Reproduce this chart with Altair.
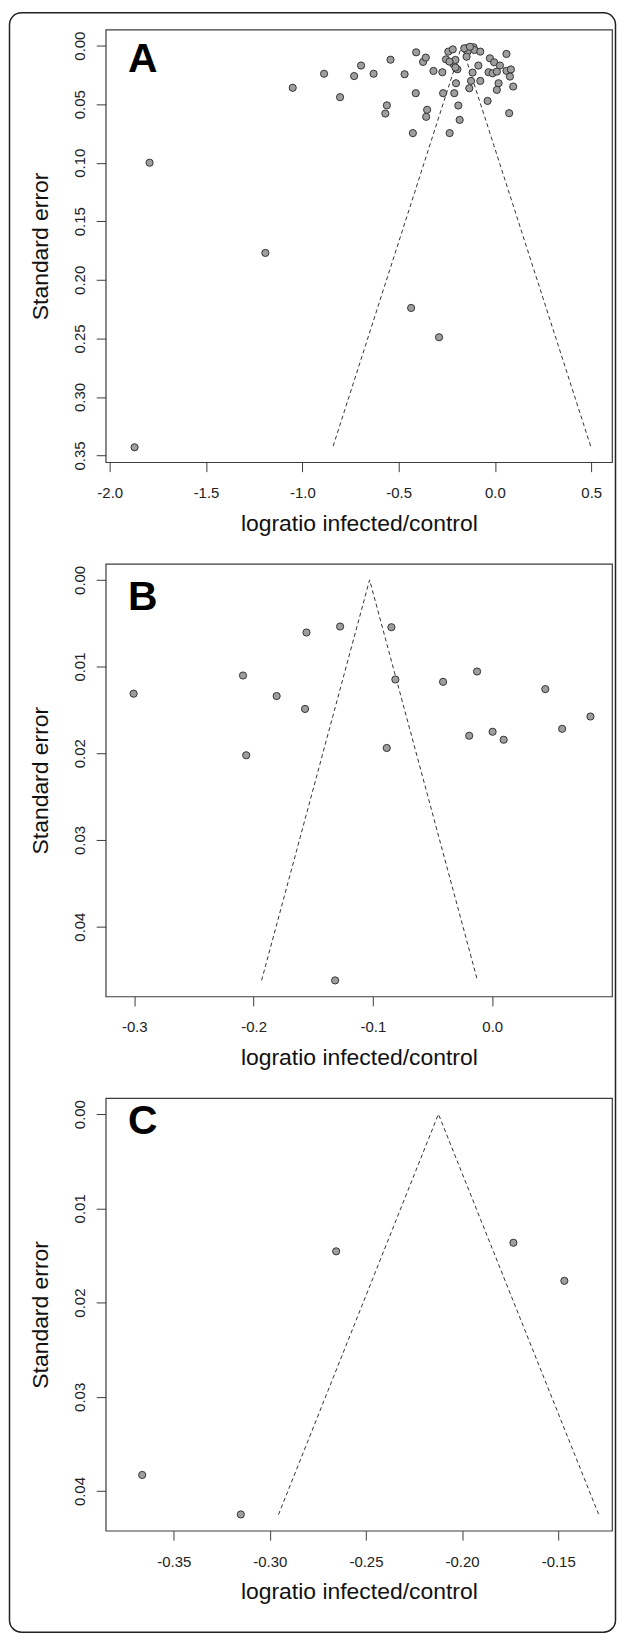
import altair as alt
import pandas as pd

# ---------------- Panel A data ----------------
a_x = [-1.871, -1.793, -1.192, -1.050, -0.887, -0.804, -0.731, -0.695, -0.630, -0.542,
       -0.561, -0.569, -0.435, -0.290,
       -0.409, -0.373, -0.359, -0.469, -0.411, -0.352, -0.357, -0.426, -0.319, -0.273,
       -0.254, -0.242, -0.219, -0.216, -0.205, -0.195, -0.269, -0.211, -0.202, -0.190,
       -0.183, -0.235, -0.150, -0.142, -0.111, -0.147, -0.107, -0.076, -0.086, -0.116,
       -0.124, -0.076, -0.133, -0.038, -0.026, -0.004, 0.026, 0.060, -0.033, -0.012,
       0.010, 0.060, 0.083, 0.078, 0.095, 0.019, 0.010, 0.074,
       -0.236, -0.159, -0.130, -0.205]
a_se = [0.343, 0.100, 0.177, 0.036, 0.024, 0.044, 0.026, 0.017, 0.024, 0.012,
        0.051, 0.058, 0.224, 0.249,
        0.0057, 0.0139, 0.0102, 0.0244, 0.0406, 0.0548, 0.0608, 0.0747, 0.0216, 0.0227,
        0.0117, 0.0051, 0.0032, 0.0157, 0.0122, 0.0202, 0.0406, 0.0406, 0.0321, 0.0511,
        0.0634, 0.0747, 0.0023, 0.0051, 0.0014, 0.0094, 0.0037, 0.0051, 0.0170, 0.0230,
        0.0301, 0.0301, 0.0364, 0.0472, 0.0108, 0.0142, 0.0170, 0.0071, 0.0227, 0.0236,
        0.0222, 0.0215, 0.0203, 0.0264, 0.0349, 0.0321, 0.0378, 0.0577,
        0.0136, 0.0023, 0.0010, 0.0187]
a_funnel_x = [-0.840, -0.172, 0.497]
a_funnel_se = [0.342, 0.0, 0.342]
a_xticks = [-2.0, -1.5, -1.0, -0.5, 0.0, 0.5]
a_yticks = [0.00, 0.05, 0.10, 0.15, 0.20, 0.25, 0.30, 0.35]
a_xdom = [-2.021, 0.608]
a_ydom = [-0.0137, 0.3557]

# ---------------- Panel B data ----------------
b_x = [-0.3006, -0.2089, -0.2062, -0.1807, -0.1569, -0.1557, -0.1275, -0.0845, -0.0812,
       -0.0884, -0.0412, -0.0127, -0.0193, 0.0003, 0.0096, 0.0445, 0.0586, 0.0823, -0.1317]
b_se = [0.01313, 0.01103, 0.02023, 0.0134, 0.01489, 0.00607, 0.00538, 0.00546, 0.01149,
        0.01939, 0.01176, 0.01057, 0.01798, 0.01752, 0.01844, 0.0126, 0.01718, 0.01576, 0.0462]
b_funnel_x = [-0.1933, -0.1028, -0.0124]
b_funnel_se = [0.0462, 0.0, 0.0462]
b_xticks = [-0.3, -0.2, -0.1, 0.0]
b_yticks = [0.00, 0.01, 0.02, 0.03, 0.04]
b_xdom = [-0.324, 0.1004]
b_ydom = [-0.00185, 0.04805]

# ---------------- Panel C data ----------------
c_x = [-0.3664, -0.3151, -0.2655, -0.1733, -0.1468]
c_se = [0.03829, 0.04248, 0.01456, 0.01365, 0.01769]
c_funnel_x = [-0.2955, -0.2123, -0.1289]
c_funnel_se = [0.0425, 0.0, 0.0425]
c_xticks = [-0.35, -0.30, -0.25, -0.20, -0.15]
c_yticks = [0.00, 0.01, 0.02, 0.03, 0.04]
c_xdom = [-0.3854, -0.122]
c_ydom = [-0.0017, 0.0442]

X_TITLE = "logratio infected/control"
Y_TITLE = "Standard error"
FONT = "Liberation Sans"
W, H = 508, 434


def fmt_expr(f):
    return "replace(format(datum.value, '" + f + "'), '\u2212', '-')"


def make_panel(px, pse, fx, fse, xdom, ydom, xticks, yticks, xfmt, letter, letter_y, frame=False):
    x_enc = alt.X(
        "x:Q",
        scale=alt.Scale(domain=xdom, nice=False, zero=False),
        axis=alt.Axis(
            values=xticks, labelExpr=fmt_expr(xfmt), title=X_TITLE,
            grid=False, domain=False, tickSize=9.5, tickColor="#3c3c3c", tickWidth=1,
            labelPadding=26, labelBaseline="alphabetic", labelFontSize=15, labelFont=FONT,
            labelColor="#222", labelFlush=False, labelOverlap=False,
            titleFont=FONT, titleFontSize=23, titleFontWeight="normal", titleColor="#111",
            titleX=W / 2, titleY=68.5, titleAlign="center", titleBaseline="alphabetic",
        ),
    )
    y_enc = alt.Y(
        "se:Q",
        scale=alt.Scale(domain=ydom, nice=False, zero=False, reverse=True),
        axis=alt.Axis(
            values=yticks, labelExpr=fmt_expr(".2f"), title=Y_TITLE,
            grid=False, domain=False, tickSize=9.5, tickColor="#3c3c3c", tickWidth=1,
            labelPadding=12.2, labelAngle=270, labelAlign="center", labelBaseline="alphabetic",
            labelFontSize=15, labelFont=FONT, labelColor="#222",
            labelFlush=False, labelOverlap=False,
            titleFont=FONT, titleFontSize=23, titleFontWeight="normal", titleColor="#111",
            titleAngle=270, titleX=-58.3, titleY=H / 2, titleAlign="center",
            titleBaseline="alphabetic",
        ),
    )
    funnel = alt.Chart(pd.DataFrame({"x": fx, "se": fse})).mark_line(
        color="#333333", strokeDash=[4, 3], strokeWidth=1
    ).encode(x=x_enc, y=y_enc)
    pts = alt.Chart(pd.DataFrame({"x": px, "se": pse})).mark_circle(
        fill="#9e9e9e", stroke="#333333", strokeWidth=1, size=52, opacity=1,
        fillOpacity=1, strokeOpacity=1,
    ).encode(x=x_enc, y=y_enc)
    txt = alt.Chart(pd.DataFrame({"t": [letter]})).mark_text(
        font=FONT, fontSize=41, fontWeight="bold", color="#000",
        align="left", baseline="alphabetic",
    ).encode(text="t:N", x=alt.value(22.5), y=alt.value(letter_y))
    layers = [funnel, pts, txt]
    if frame:
        fr = alt.Chart(pd.DataFrame({"d": [0]})).mark_rect(
            fillOpacity=0, fill="white", stroke="#222", strokeWidth=1.5, cornerRadius=12,
        ).encode(
            x=alt.value(-96.5), x2=alt.value(511.5),
            y=alt.value(-17.0), y2=alt.value(1607.8),
        )
        layers = [fr] + layers
    return alt.layer(*layers).properties(width=W, height=H)


pa = make_panel(a_x, a_se, a_funnel_x, a_funnel_se, a_xdom, a_ydom, a_xticks, a_yticks,
                ".1f", "A", 42.6, frame=True)
pb = make_panel(b_x, b_se, b_funnel_x, b_funnel_se, b_xdom, b_ydom, b_xticks, b_yticks,
                ".1f", "B", 46.6)
pc = make_panel(c_x, c_se, c_funnel_x, c_funnel_se, c_xdom, c_ydom, c_xticks, c_yticks,
                ".2f", "C", 36.0)

chart = alt.vconcat(pa, pb, pc, spacing=102, bounds="flush").properties(
    padding=0, background="white"
).configure_view(stroke="#3c3c3c", strokeWidth=1.2)

chart.save("out.html", embed_options={"renderer": "svg", "actions": False})
